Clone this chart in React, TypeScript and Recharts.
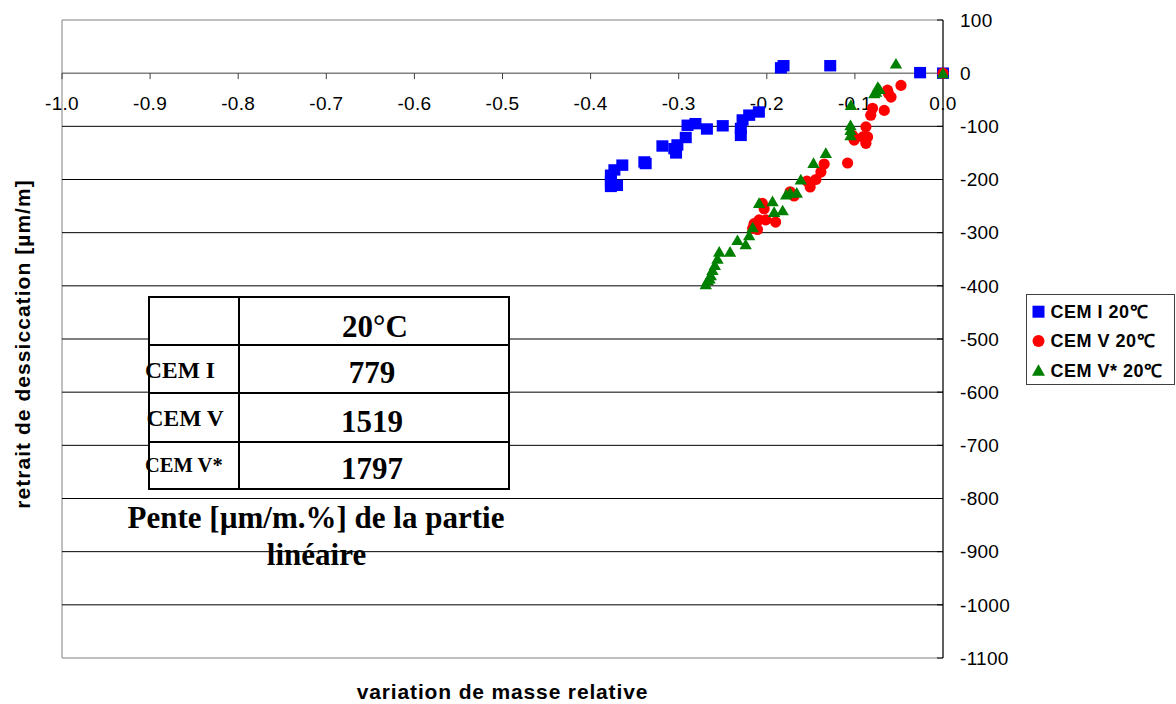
import React from 'react';
import {
  ScatterChart,
  Scatter,
  XAxis,
  YAxis,
  ReferenceLine,
  ReferenceArea,
  ReferenceDot,
  Legend,
} from 'recharts';

// ---- data ----
const cemI = [
  { x: -0.377, y: -204 }, { x: -0.377, y: -192 }, { x: -0.373, y: -182 }, { x: -0.364, y: -173 },
  { x: -0.370, y: -211 }, { x: -0.377, y: -213 }, { x: -0.339, y: -167 }, { x: -0.3375, y: -170 },
  { x: -0.3185, y: -137 }, { x: -0.305, y: -142 }, { x: -0.3015, y: -135 }, { x: -0.303, y: -150 },
  { x: -0.292, y: -121 }, { x: -0.290, y: -98 }, { x: -0.281, y: -95 }, { x: -0.268, y: -105 },
  { x: -0.250, y: -99 }, { x: -0.2295, y: -117 }, { x: -0.2295, y: -104 }, { x: -0.2275, y: -88 },
  { x: -0.220, y: -79 }, { x: -0.209, y: -73 }, { x: -0.184, y: 10 }, { x: -0.181, y: 14 },
  { x: -0.128, y: 14 }, { x: -0.026, y: 1 }, { x: 0.0, y: 0 },
];

const cemV = [
  { x: 0.0, y: 0 }, { x: -0.0477, y: -23 }, { x: -0.063, y: -32 }, { x: -0.062, y: -38 },
  { x: -0.059, y: -45 }, { x: -0.0667, y: -70 }, { x: -0.080, y: -66 }, { x: -0.082, y: -79 },
  { x: -0.0875, y: -101 }, { x: -0.091, y: -120 }, { x: -0.0856, y: -120 }, { x: -0.0875, y: -132 },
  { x: -0.1008, y: -126 }, { x: -0.1026, y: -117 }, { x: -0.1083, y: -169 }, { x: -0.1349, y: -171 },
  { x: -0.1386, y: -186 }, { x: -0.1443, y: -200 }, { x: -0.1508, y: -214 }, { x: -0.1545, y: -203 },
  { x: -0.169, y: -231 }, { x: -0.1735, y: -223 }, { x: -0.203, y: -255 }, { x: -0.205, y: -245 },
  { x: -0.190, y: -280 }, { x: -0.201, y: -276 }, { x: -0.2087, y: -276 }, { x: -0.2144, y: -283 },
  { x: -0.216, y: -292 }, { x: -0.2106, y: -294 },
];

const cemVstar = [
  { x: -0.0534, y: 18 }, { x: 0.0, y: 0 }, { x: -0.074, y: -26 }, { x: -0.072, y: -30 },
  { x: -0.076, y: -35 }, { x: -0.078, y: -38 }, { x: -0.1045, y: -60 }, { x: -0.105, y: -98 },
  { x: -0.105, y: -107 }, { x: -0.105, y: -117 }, { x: -0.133, y: -150 }, { x: -0.147, y: -169 },
  { x: -0.1614, y: -200 }, { x: -0.1735, y: -225 }, { x: -0.166, y: -225 }, { x: -0.178, y: -228 },
  { x: -0.1935, y: -241 }, { x: -0.2087, y: -244 }, { x: -0.182, y: -258 }, { x: -0.1917, y: -261 },
  { x: -0.216, y: -290 }, { x: -0.220, y: -305 }, { x: -0.2333, y: -314 }, { x: -0.224, y: -322 },
  { x: -0.2417, y: -336 }, { x: -0.254, y: -336 }, { x: -0.256, y: -349 }, { x: -0.259, y: -361 },
  { x: -0.2617, y: -370 }, { x: -0.2636, y: -380 }, { x: -0.267, y: -389 }, { x: -0.2693, y: -397 },
  { x: -0.265, y: -386 },
];

const seriesNames = ['CEM I 20\u2103', 'CEM V 20\u2103', 'CEM V* 20\u2103'];
const xTicks = [-1.0, -0.9, -0.8, -0.7, -0.6, -0.5, -0.4, -0.3, -0.2, -0.1, 0.0];
const yTicks = [100, 0, -100, -200, -300, -400, -500, -600, -700, -800, -900, -1000, -1100];
const gridValues = [-100, -200, -300, -400, -500, -600, -700, -800, -900, -1000];
const xTitle = 'variation de masse relative';
const yTitle = 'retrait de dessiccation [\u00b5m/m]';
const tableHeader = '20\u00b0C';
const tableLabels = ['CEM I', 'CEM V', 'CEM V*'];
const tableValues = [779, 1519, 1797];
const tableCaption = ['Pente [\u00b5m/m.%] de la partie', 'lin\u00e9aire'];

const SANS = '"Liberation Sans", Arial, sans-serif';
const SERIF = '"Liberation Serif", "Times New Roman", serif';

const SquareShape = (p: any) => (
  <rect x={p.cx - 6} y={p.cy - 5.7} width={12} height={11.4} fill="#0000FF" />
);
const CircleShape = (p: any) => <circle cx={p.cx} cy={p.cy} r={5.6} fill="#FF0000" />;
const TriangleShape = (p: any) => (
  <polygon
    points={`${p.cx},${p.cy - 5.7} ${p.cx + 6.2},${p.cy + 5} ${p.cx - 6.2},${p.cy + 5}`}
    fill="#008000"
  />
);

const fmtX = (v: number) => (v === 0 ? '0.0' : v.toFixed(1));

const XTickShape = (value: number) => (p: any) => (
  <g>
    <line x1={p.cx} x2={p.cx} y1={p.cy} y2={p.cy + 6} stroke="#404040" strokeWidth={1} />
    <text
      x={p.cx}
      y={p.cy + 37}
      textAnchor="middle"
      fontFamily={SANS}
      fontSize={19}
      letterSpacing={0.3}
      fill="#000"
    >
      {fmtX(value)}
    </text>
  </g>
);

const legendMarker = (i: number, cx: number, cy: number) => {
  if (i === 0) return <rect x={cx - 6} y={cy - 6} width={12} height={12} fill="#0000FF" />;
  if (i === 1) return <circle cx={cx} cy={cy} r={6} fill="#FF0000" />;
  return <polygon points={`${cx},${cy - 6} ${cx + 6.5},${cy + 5.5} ${cx - 6.5},${cy + 5.5}`} fill="#008000" />;
};

const renderLegend = (props: any) => {
  const payload = (props && props.payload) || [];
  const items = payload.length ? payload.map((e: any) => e.value) : seriesNames;
  return (
    <svg width={149} height={91} style={{ display: 'block' }}>
      <rect x={0.5} y={0.5} width={148} height={90} fill="#fff" stroke="#404040" />
      {items.map((name: string, i: number) => {
        const cy = 17.7 + i * 29.3;
        return (
          <g key={name}>
            {legendMarker(i, 12.5, cy)}
            <text
              x={24.5}
              y={cy + 6.4}
              fontFamily={SANS}
              fontWeight="bold"
              fontSize={18}
              letterSpacing={0.5}
              fill="#000"
            >
              {name}
            </text>
          </g>
        );
      })}
    </svg>
  );
};

export default function App() {
  return (
    <div style={{ position: 'absolute', left: 0, top: 0, width: 1176, height: 704, background: '#fff' }}>
      <ScatterChart
        width={1176}
        height={704}
        margin={{ top: 20, right: 153, bottom: 46, left: 62 }}
        style={{ fontFamily: SANS }}
      >
        <XAxis type="number" dataKey="x" domain={[-1, 0]} hide />
        <YAxis
          type="number"
          dataKey="y"
          orientation="right"
          width={80}
          domain={[-1100, 100]}
          ticks={yTicks}
          interval={0}
          axisLine={{ stroke: '#000', strokeWidth: 1 }}
          tickLine={{ stroke: '#000' }}
          tickSize={-6}
          tickMargin={23}
          tick={{ fill: '#000', fontSize: 19, fontFamily: SANS, letterSpacing: 0.3, textAnchor: 'start' }}
        />
        <ReferenceArea
          x1={-1}
          x2={0}
          y1={-1100}
          y2={100}
          fill="none"
          fillOpacity={0}
          stroke="#808080"
          strokeWidth={1}
          isFront={false}
        />
        {gridValues.map((v) => (
          <ReferenceLine key={v} y={v} stroke="#000" strokeWidth={1} />
        ))}
        <ReferenceLine y={0} stroke="#404040" strokeWidth={1} />
        {xTicks.map((v) => (
          <ReferenceDot key={`xt${v}`} x={v} y={0} r={0} ifOverflow="visible" shape={XTickShape(v)} />
        ))}
        <Legend
          layout="vertical"
          align="center"
          verticalAlign="middle"
          content={renderLegend}
          wrapperStyle={{ left: 1026, top: 294, width: 149, height: 91 }}
        />
        <Scatter name={seriesNames[0]} data={cemI} fill="#0000FF" shape={SquareShape} isAnimationActive={false} />
        <Scatter name={seriesNames[1]} data={cemV} fill="#FF0000" shape={CircleShape} isAnimationActive={false} />
        <Scatter name={seriesNames[2]} data={cemVstar} fill="#008000" shape={TriangleShape} isAnimationActive={false} />
      </ScatterChart>

      <svg
        width={1176}
        height={704}
        style={{ position: 'absolute', left: 0, top: 0, pointerEvents: 'none' }}
      >
        {/* axis titles */}
        <text
          x={502.5}
          y={699}
          textAnchor="middle"
          fontFamily={SANS}
          fontWeight="bold"
          fontSize={21}
          letterSpacing={0.85}
          fill="#000"
        >
          {xTitle}
        </text>
        <text
          x={30}
          y={344}
          transform="rotate(-90 30 344)"
          textAnchor="middle"
          fontFamily={SANS}
          fontWeight="bold"
          fontSize={21}
          letterSpacing={1.05}
          fill="#000"
        >
          {yTitle}
        </text>

        {/* slope table */}
        <rect x={149} y={297} width={360} height={192} fill="#fff" stroke="#000" strokeWidth={2} />
        <line x1={239} x2={239} y1={297} y2={489} stroke="#000" strokeWidth={2} />
        {[345, 393, 442].map((yy) => (
          <line key={yy} x1={149} x2={509} y1={yy} y2={yy} stroke="#000" strokeWidth={2} />
        ))}
        <text x={375} y={337} textAnchor="middle" fontFamily={SERIF} fontWeight="bold" fontSize={31} fill="#000">
          {tableHeader}
        </text>
        {tableValues.map((v, i) => (
          <text
            key={v}
            x={372}
            y={[383, 432, 479][i]}
            textAnchor="middle"
            fontFamily={SERIF}
            fontWeight="bold"
            fontSize={31}
            fill="#000"
          >
            {v}
          </text>
        ))}
        {tableLabels.map((l, i) => (
          <text
            key={l}
            x={[145, 146.5, 145][i]}
            y={[378, 426, 472][i]}
            fontFamily={SERIF}
            fontWeight="bold"
            fontSize={[23.5, 23.5, 20.5][i]}
            fill="#000"
          >
            {l}
          </text>
        ))}
        <text x={316} y={528} textAnchor="middle" fontFamily={SERIF} fontWeight="bold" fontSize={31} fill="#000">
          {tableCaption[0]}
        </text>
        <text x={316.5} y={565} textAnchor="middle" fontFamily={SERIF} fontWeight="bold" fontSize={31} fill="#000">
          {tableCaption[1]}
        </text>
      </svg>
    </div>
  );
}
